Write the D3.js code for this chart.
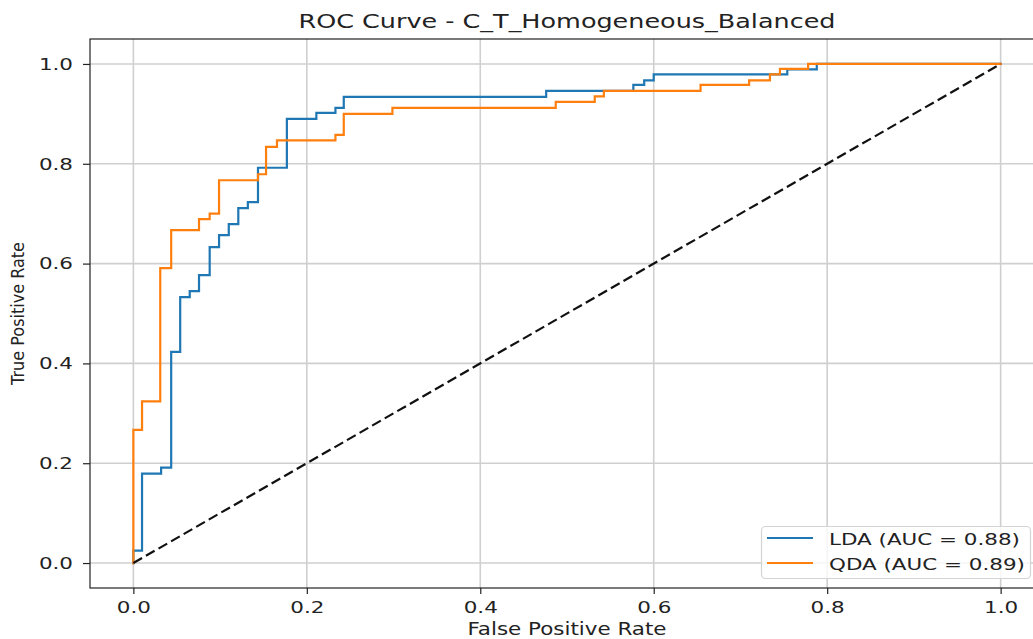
<!DOCTYPE html>
<html><head><meta charset="utf-8">
<script src="https://cdn.jsdelivr.net/npm/d3@7"></script>
<style>body{margin:0;background:#fff}svg{display:block}text{font-family:"DejaVu Sans",sans-serif;fill:#222}</style>
</head><body><svg id="c" width="1033" height="639"></svg>
<script>
const title = "ROC Curve - C_T_Homogeneous_Balanced";
const xLabel = "False Positive Rate";
const yLabel = "True Positive Rate";
const tickValues = [0, 0.2, 0.4, 0.6, 0.8, 1.0];
const seriesNames = ["LDA (AUC = 0.88)", "QDA (AUC = 0.89)"];
const seriesColors = ["#1f77b4", "#ff7f0e"];
const ldaFpr = [0, 0, 0.010, 0.032, 0.0436, 0.054, 0.065, 0.0757, 0.088, 0.0988, 0.110, 0.121, 0.132, 0.1437, 0.177, 0.211, 0.233, 0.2426, 0.476, 0.5765, 0.589, 0.600, 0.754, 0.788, 1.0];
const ldaTpr = [0, 0.025, 0.179, 0.191, 0.423, 0.533, 0.545, 0.577, 0.633, 0.657, 0.679, 0.711, 0.723, 0.792, 0.890, 0.902, 0.912, 0.934, 0.946, 0.958, 0.967, 0.979, 0.989, 1.0, 1.0];
const qdaFpr = [0, 0, 0.010, 0.031, 0.0436, 0.0757, 0.088, 0.0988, 0.1437, 0.153, 0.1656, 0.233, 0.2426, 0.2987, 0.487, 0.532, 0.5425, 0.654, 0.710, 0.734, 0.7455, 0.778, 1.0];
const qdaTpr = [0, 0.267, 0.324, 0.591, 0.667, 0.689, 0.700, 0.767, 0.779, 0.834, 0.847, 0.858, 0.900, 0.912, 0.924, 0.935, 0.946, 0.958, 0.967, 0.979, 0.990, 1.0, 1.0];
const chance = [0, 1];

const svg = d3.select("#c");
const L = 90, T = 39, R = 1044, B = 588;
const x = d3.scaleLinear().domain([-0.05, 1.05]).range([L, R]);
const y = d3.scaleLinear().domain([-0.05, 1.05]).range([B, T]);
const SX = 1.3;
function stretch(sel, f) {
  sel.each(function(){ const n = this.getComputedTextLength(); this.setAttribute("textLength", n * f); this.setAttribute("lengthAdjust", "spacingAndGlyphs"); });
}
svg.append("clipPath").attr("id","clip").append("rect").attr("x",L).attr("y",T).attr("width",R-L).attr("height",B-T);

// grid
const g = svg.append("g");
g.selectAll("line.gx").data(tickValues).join("line").attr("x1",d=>x(d)).attr("x2",d=>x(d)).attr("y1",T).attr("y2",B).attr("stroke","#cfcfcf").attr("stroke-width",1.6);
g.selectAll("line.gy").data(tickValues).join("line").attr("y1",d=>y(d)).attr("y2",d=>y(d)).attr("x1",L).attr("x2",R).attr("stroke","#cfcfcf").attr("stroke-width",1.6);

// curves
const line = d3.line().x(d=>x(d[0])).y(d=>y(d[1])).curve(d3.curveStepAfter);
const series = [d3.zip(ldaFpr, ldaTpr), d3.zip(qdaFpr, qdaTpr)];
const cg = svg.append("g").attr("clip-path","url(#clip)");
series.forEach((s,i)=>cg.append("path").attr("d", line(s)).attr("fill","none").attr("stroke",seriesColors[i]).attr("stroke-width",2.2).attr("stroke-linejoin","miter").attr("stroke-linecap","square"));
cg.append("path").attr("d", d3.line().x(d=>x(d)).y(d=>y(d))(chance)).attr("fill","none").attr("stroke","#111").attr("stroke-width",2.2).attr("stroke-dasharray","10,4.5");

// frame
svg.append("rect").attr("x",L).attr("y",T).attr("width",R-L).attr("height",B-T).attr("fill","none").attr("stroke","#222").attr("stroke-width",1.2);

// axes
const fmt = d3.format(".1f");
const ax = svg.append("g").attr("transform",`translate(0,${B})`).call(d3.axisBottom(x).tickValues(tickValues).tickFormat(fmt).tickSize(6).tickPadding(7));
const ay = svg.append("g").attr("transform",`translate(${L},0)`).call(d3.axisLeft(y).tickValues(tickValues).tickFormat(fmt).tickSize(7).tickPadding(10));
[ax, ay].forEach(a => { a.select(".domain").remove(); a.selectAll("line").attr("stroke","#222").attr("stroke-width",1.2); a.selectAll("text").attr("font-size",16.5).attr("font-family","DejaVu Sans").attr("fill","#222"); });
stretch(ax.selectAll("text"), SX);
stretch(ay.selectAll("text"), SX);

// titles
const tt = svg.append("text").attr("x",(L+R)/2).attr("y",28).attr("text-anchor","middle").attr("font-size",19).text(title);
tt.attr("textLength",537).attr("lengthAdjust","spacingAndGlyphs");
const xl = svg.append("text").attr("x",567).attr("y",635).attr("text-anchor","middle").attr("font-size",17).text(xLabel);
xl.attr("textLength",199).attr("lengthAdjust","spacingAndGlyphs");
const yl = svg.append("text").attr("transform",`translate(24,${(T+B)/2}) rotate(-90)`).attr("text-anchor","middle").attr("font-size",18).text(yLabel);
yl.attr("textLength",143).attr("lengthAdjust","spacingAndGlyphs");

// legend
const lg = svg.append("g");
lg.append("rect").attr("x",761.5).attr("y",526.5).attr("width",269).attr("height",52).attr("rx",4).attr("fill","#fff").attr("fill-opacity",0.8).attr("stroke","#d4d4d4").attr("stroke-width",1.2);
seriesNames.forEach((n,i)=>{
  const yy = 538 + i*25;
  lg.append("line").attr("x1",767).attr("x2",813).attr("y1",yy).attr("y2",yy).attr("stroke",seriesColors[i]).attr("stroke-width",2.2);
  const t = lg.append("text").attr("x",829).attr("y",yy+6.5).attr("font-size",16).text(n);
  stretch(t, 1.34);
});
</script></body></html>
